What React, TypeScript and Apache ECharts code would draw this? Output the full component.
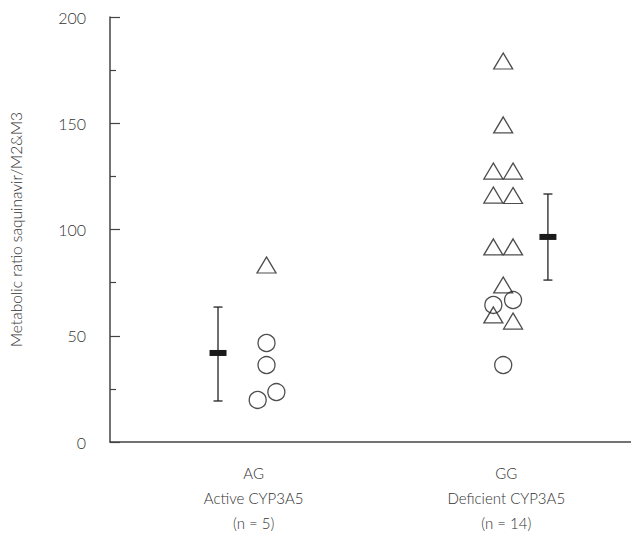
import React, { useEffect, useRef } from "react";
import * as echarts from "echarts";

// Groups (x position 1 = AG, 2 = GG)
const categories = ["AG", "GG"];
const categoryLabels = ["Active CYP3A5", "Deficient CYP3A5"];
const counts = [5, 14];

// Individual points: [x position (group + jitter), metabolic ratio]
const trianglePoints: [number, number][] = [
  [1.051, 83.3],
  [1.988, 179.3],
  [1.988, 149.2],
  [1.949, 127.5],
  [2.027, 127.5],
  [1.949, 116.2],
  [2.027, 116.0],
  [1.949, 91.8],
  [2.027, 91.8],
  [1.988, 73.9],
  [1.949, 59.8],
  [2.027, 56.9],
];
const circlePoints: [number, number][] = [
  [1.051, 46.6],
  [1.051, 36.2],
  [1.016, 19.8],
  [1.09, 23.5],
  [2.027, 66.8],
  [1.949, 64.5],
  [1.988, 36.2],
];
// Mean with range: [x position, mean, low, high]
const meanBars: [number, number, number, number][] = [
  [0.859, 41.9, 19.3, 63.5],
  [2.165, 96.5, 76.2, 116.7],
];

const yTicks = [0, 50, 100, 150, 200];
const FONT = "Lato";
const TEXT = "#333";

export default function App() {
  const ref = useRef<HTMLDivElement>(null);
  useEffect(() => {
    if (!ref.current) return;
    const chart = echarts.init(ref.current, undefined, { renderer: "svg" });
    chart.setOption({
      animation: false,
      backgroundColor: "#fff",
      grid: { left: 105, right: 1, top: 17, bottom: 99 },
      xAxis: {
        type: "value",
        min: 0.4314,
        max: 2.5216,
        splitLine: { show: false },
        axisTick: { show: false },
        axisLine: { show: true, lineStyle: { color: "#444", width: 1.5 } },
        axisLabel: {
          customValues: [1, 2],
          margin: 18,
          fontFamily: FONT,
          fontWeight: 300,
          fontSize: 15,
          lineHeight: 25,
          color: TEXT,
          formatter: (v: number) => {
            const i = Math.round(v) - 1;
            if (i < 0 || i >= categories.length) return "";
            return `${categories[i]}\n${categoryLabels[i]}\n(n = ${counts[i]})`;
          },
        },
      },
      yAxis: {
        type: "value",
        min: yTicks[0],
        max: yTicks[yTicks.length - 1],
        interval: 50,
        name: "Metabolic ratio saquinavir/M2&M3",
        nameLocation: "middle",
        nameGap: 86,
        nameTextStyle: { fontFamily: FONT, fontWeight: 300, fontSize: 15.5, color: TEXT },
        splitLine: { show: false },
        axisLine: { show: true, lineStyle: { color: "#444", width: 1.5 } },
        axisTick: { show: true, inside: true, length: 10, lineStyle: { color: "#444", width: 1.2 } },
        minorTick: { show: true, splitNumber: 2, length: 6, lineStyle: { color: "#444", width: 1.2 } },
        axisLabel: {
          margin: 24,
          fontFamily: FONT,
          fontWeight: 300,
          fontSize: 16,
          color: TEXT,
        },
      },
      series: [
        {
          type: "scatter",
          data: trianglePoints,
          symbol: "triangle",
          symbolSize: [19, 16],
          itemStyle: { color: "rgba(0,0,0,0)", borderColor: "#222", borderWidth: 1.3 },
          z: 3,
        },
        {
          type: "scatter",
          data: circlePoints,
          symbol: "circle",
          symbolSize: 17,
          itemStyle: { color: "rgba(0,0,0,0)", borderColor: "#222", borderWidth: 1.3 },
          z: 3,
        },
        {
          type: "custom",
          data: meanBars,
          renderItem: (_params: any, api: any) => {
            const x = api.value(0);
            const pm = api.coord([x, api.value(1)]);
            const pl = api.coord([x, api.value(2)]);
            const ph = api.coord([x, api.value(3)]);
            const stroke = { stroke: "#222", lineWidth: 1.3 };
            return {
              type: "group",
              children: [
                { type: "line", shape: { x1: pm[0], y1: ph[1], x2: pm[0], y2: pl[1] }, style: stroke },
                { type: "line", shape: { x1: pm[0] - 4.5, y1: ph[1], x2: pm[0] + 4.5, y2: ph[1] }, style: stroke },
                { type: "line", shape: { x1: pm[0] - 4.5, y1: pl[1], x2: pm[0] + 4.5, y2: pl[1] }, style: stroke },
                { type: "rect", shape: { x: pm[0] - 8.5, y: pm[1] - 3, width: 17, height: 6 }, style: { fill: "#1a1a1a" } },
              ],
            };
          },
          z: 4,
        },
      ],
    });
    return () => chart.dispose();
  }, []);
  return <div ref={ref} style={{ width: 639, height: 541, margin: -8 }} />;
}
